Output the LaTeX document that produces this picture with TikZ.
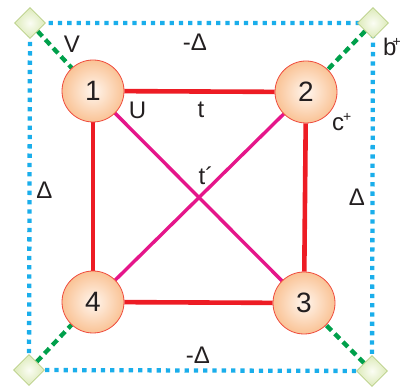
\documentclass[tikz,border=0pt]{standalone}
\usepackage{fontspec}
\setmainfont{Liberation Sans}
\usetikzlibrary{shapes.geometric,backgrounds}

\definecolor{bondc}{HTML}{ED1C24}
\definecolor{crossc}{HTML}{E5168A}
\definecolor{hybc}{HTML}{00A04B}
\definecolor{boxc}{HTML}{1AAEEB}
\definecolor{sitec}{HTML}{F6A059}
\definecolor{sitein}{HTML}{FFF6EE}
\definecolor{siteedge}{HTML}{EF4A3C}
\definecolor{bathc}{HTML}{CCE09A}
\definecolor{bathin}{HTML}{FBFDF4}
\definecolor{bathedge}{HTML}{B9CF86}
\definecolor{inkc}{HTML}{231F20}

\pgfdeclareradialshading{siteshade}{\pgfpoint{0bp}{0bp}}{color(0bp)=(sitein); color(42bp)=(sitec); color(50bp)=(sitec)}
\pgfdeclareradialshading{bathshade}{\pgfpoint{0bp}{0bp}}{color(0bp)=(bathin); color(38bp)=(bathc); color(50bp)=(bathc)}

\newcommand{\plussup}[1]{\kern#1\raisebox{9pt}{\fontsize{14}{14}\selectfont+}}

\begin{document}
\begin{tikzpicture}[x=1pt,y=-1pt,
  site/.style={circle,draw=siteedge,line width=0.8pt,shade,shading=siteshade,
    minimum size=62pt,inner sep=0pt,text=inkc,font=\fontsize{28}{30}\selectfont},
  bath/.style={diamond,draw=bathedge,line width=0.6pt,shade,shading=bathshade,
    minimum size=31pt,inner sep=0pt},
  lbl/.style={text=inkc,inner sep=0pt,font=\fontsize{24}{26}\selectfont},
  bond/.style={bondc,line width=4.6pt},
  cross/.style={crossc,line width=3.4pt},
  hyb/.style={hybc,line width=4.3pt,dash pattern=on 7pt off 4.5pt},
  box/.style={boxc,line width=4.3pt,dash pattern=on 4.3pt off 5pt}]
\useasboundingbox (0,0) rectangle (402,387);

% baths at the corners
\node[bath] (b1) at (30,23) {};
\node[bath] (b2) at (373,23) {};
\node[bath] (b3) at (372,371) {};
\node[bath] (b4) at (29,370) {};

% the four sites
\node[site] (s1) at (93,91) {1};
\node[site] (s2) at (306,92) {2};
\node[site] (s3) at (304,303) {3};
\node[site] (s4) at (93,302) {4};

\begin{scope}[on background layer]
\draw[box] (b1.center) -- (b2.center) -- (b3.center) -- (b4.center) -- cycle;
\draw[hyb] (b1) -- (s1);
\draw[hyb] (b2) -- (s2);
\draw[hyb] (b3) -- (s3);
\draw[hyb] (b4) -- (s4);
\draw[bond] (s1) -- (s2);
\draw[bond] (s2) -- (s3);
\draw[bond] (s3) -- (s4);
\draw[bond] (s4) -- (s1);
\draw[cross] (s1) -- (s3);
\draw[cross] (s2) -- (s4);
\end{scope}

% labels
\node[lbl] (lv) at (72,44) {V};
\node[lbl] (ltop) at (195,42) {-Δ};
\node[lbl,anchor=west] (lb) at (383,47) {b\plussup{-4pt}};
\node[lbl] (lu) at (137.5,110) {U};
\node[lbl] (lt) at (201,110) {t};
\node[lbl,anchor=west] (lc) at (332,122) {c\plussup{-1pt}};
\node[lbl] (ltp) at (206,176) {t´};
\node[lbl] (lleft) at (44.5,190) {Δ};
\node[lbl] (lright) at (357,197) {Δ};
\node[lbl] (lbot) at (198,355) {-Δ};
\end{tikzpicture}
\end{document}
